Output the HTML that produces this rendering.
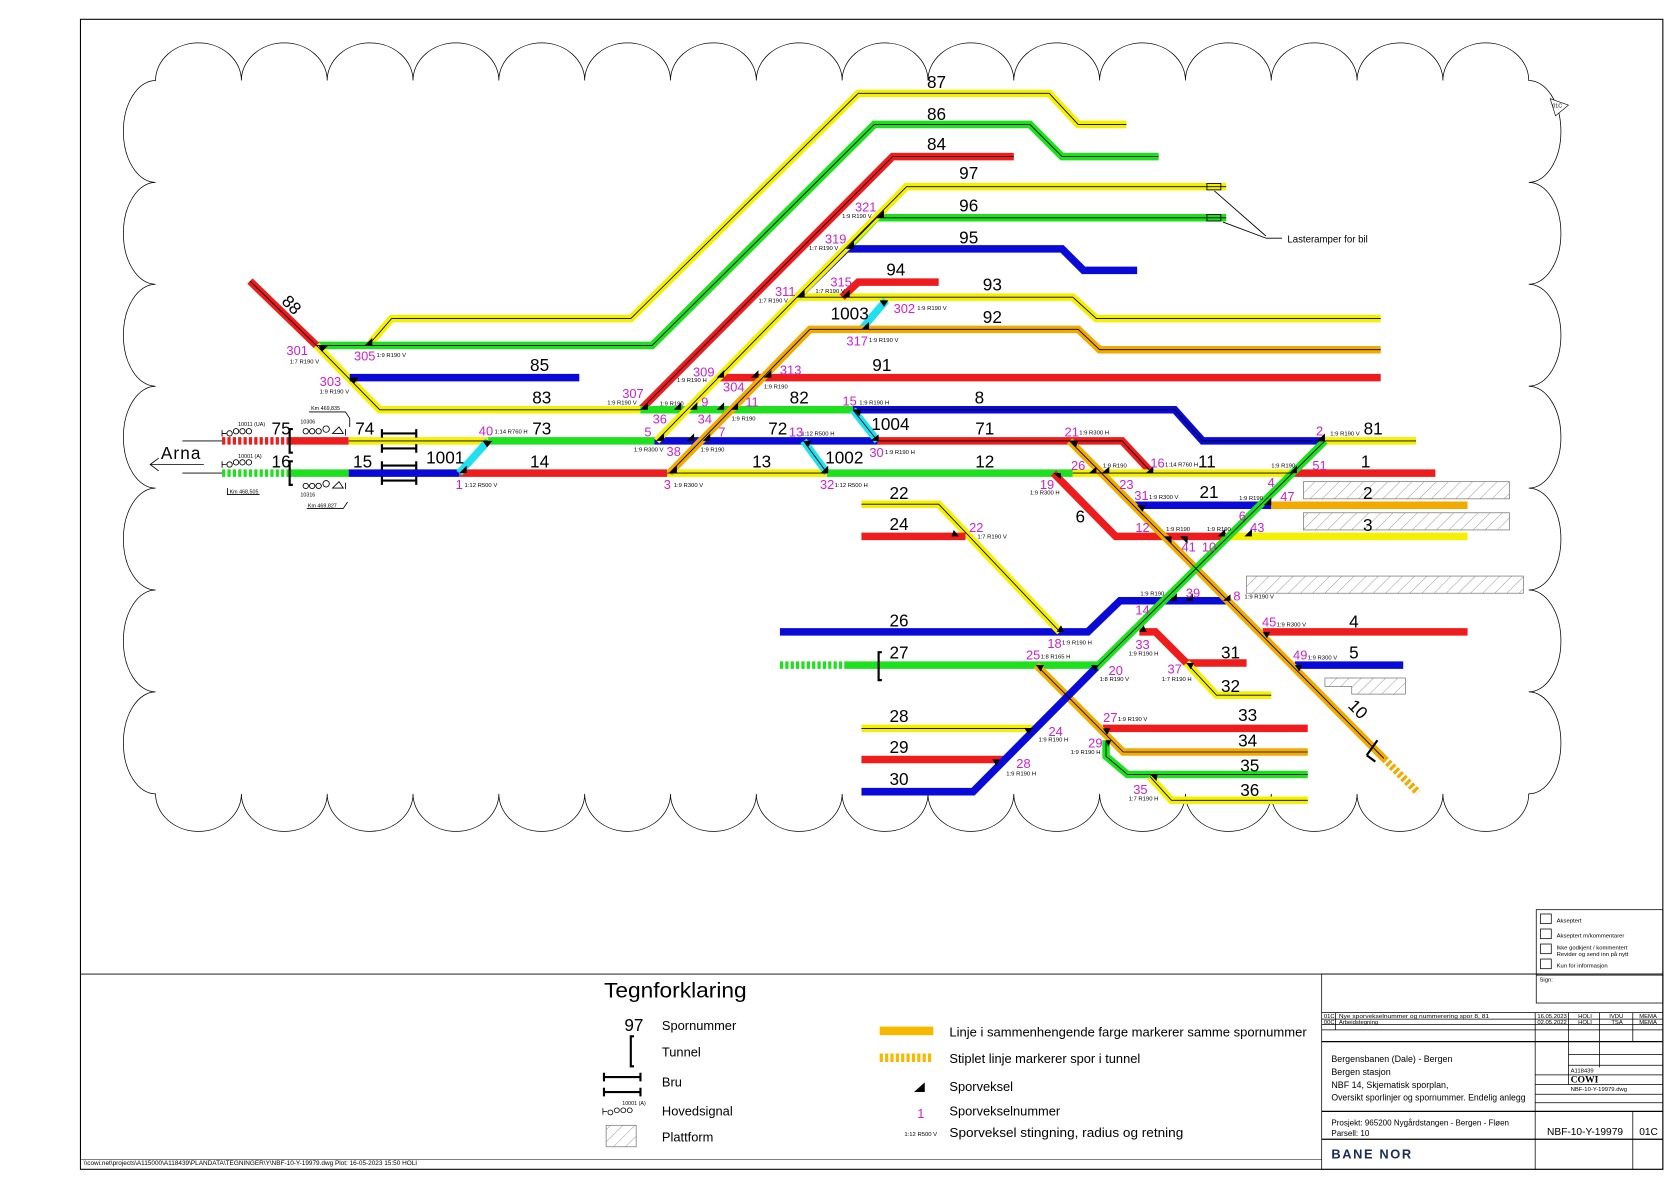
<!DOCTYPE html>
<html><head><meta charset="utf-8">
<style>
html,body{margin:0;padding:0;background:#fff;}
svg{display:block;}
text{font-family:"Liberation Sans Narrow","Liberation Sans",sans-serif;}
.L{font-size:16px;fill:#000;}
.m{font-size:12px;fill:#cc22cc;}
.s{font-size:5.5px;fill:#000;}
.k{fill:none;stroke:#000;stroke-width:0.8;}
</style></head><body>
<svg width="1680" height="1187" viewBox="0 0 1566 1106.5" preserveAspectRatio="none" xmlns="http://www.w3.org/2000/svg">
<defs>
<pattern id="h" width="8" height="8" patternUnits="userSpaceOnUse" patternTransform="rotate(45)"><line x1="0" y1="0" x2="0" y2="8" stroke="#888" stroke-width="0.8"/></pattern>
<polyline id="a87" points="345,320 365,297 588,297 800,87 978,87 1005,116 1050,116"/>
<polyline id="a86" points="295,322 608,322 815,116 960,116 990,146 1080,146"/>
<polyline id="a84" points="597,382 832,146 945,146"/>
<polyline id="a88" points="233,262 295,322"/>
<polyline id="a83" points="295,322 354,382 597,382"/>
<polyline id="a85" points="326,352 540,352"/>
<polyline id="a97" points="612,411 743,277 845,174 1143,174"/>
<polyline id="a93" points="743,277 1000,277 1022,297 1287,297"/>
<polyline id="a96" points="789,232 817,203 1143,203"/>
<polyline id="a95" points="743,277 789,232 990,232 1010,252 1060,252"/>
<polyline id="a94" points="785,277 800,263 875,263"/>
<polyline id="a1003" points="803,307 826,280"/>
<polyline id="a92" points="624,441 755,307 1005,307 1025,326 1287,326"/>
<polyline id="a91" points="668,352 1287,352"/>
<polyline id="a82" points="597,382 795,382"/>
<polyline id="a8" points="795,382 1095,382 1121,411 1235,411"/>
<polyline id="a81" points="1235,411 1320,411"/>
<polyline id="a75" points="270,411 325,411"/>
<polyline id="a74" points="325,411 455,411"/>
<polyline id="a73" points="455,411 610,411"/>
<polyline id="a72" points="610,411 818,411"/>
<polyline id="a1004" points="795,382 818,411"/>
<polyline id="a71" points="818,411 1046,411 1074,441"/>
<polyline id="a16" points="270,441 325,441"/>
<polyline id="a15" points="325,441 428,441"/>
<polyline id="a14" points="428,441 622,441"/>
<polyline id="a1001" points="428,441 455,411"/>
<polyline id="a13" points="622,441 771,441"/>
<polyline id="a1002" points="749,411 771,441"/>
<polyline id="a12" points="771,441 1000,441"/>
<polyline id="a11" points="1000,441 1205,441"/>
<polyline id="a1" points="1205,441 1338,441"/>
<polyline id="a6" points="982,441 1040,500 1143,500"/>
<polyline id="a3" points="1143,500 1368,500"/>
<polyline id="a21" points="1058,471 1185,471"/>
<polyline id="a2" points="1185,471 1368,471"/>
<polyline id="a10" points="997,411 1290,707"/>
<polyline id="agd" points="1235,411 1022,622"/>
<polyline id="abd" points="1022,622 907,738 803,738"/>
<polyline id="a26" points="727,589 1014,589 1044,560 1143,560"/>
<polyline id="a22" points="803,470 875,470 988,589"/>
<polyline id="a24" points="803,500 900,500"/>
<polyline id="a4" points="1177,589 1368,589"/>
<polyline id="a5" points="1207,620 1308,620"/>
<polyline id="a27" points="790,620 1025,620"/>
<polyline id="a31" points="1062,589 1077,589 1106,618 1162,618"/>
<polyline id="a32" points="1106,618 1134,648 1185,648"/>
<polyline id="a34" points="966,620 1047,701 1219,701"/>
<polyline id="a33" points="1028,679 1219,679"/>
<polyline id="a35" points="1031,690 1031,705 1051,722 1219,722"/>
<polyline id="a36" points="1072,724 1092,746 1219,746"/>
<polyline id="a28" points="803,679 963,679"/>
<polyline id="a29" points="803,708 935,708"/>
</defs>

<rect x="75" y="18" width="1475" height="1072" fill="none" stroke="#000" stroke-width="1"/>
<line x1="75" y1="908" x2="1550" y2="908" stroke="#000" stroke-width="0.8"/>

<path d="M145,75 a40,35 0 0 1 80,0 a40,35 0 0 1 80,0 a40,35 0 0 1 80,0 a40,35 0 0 1 80,0 a40,35 0 0 1 80,0 a40,35 0 0 1 80,0 a40,35 0 0 1 80,0 a40,35 0 0 1 80,0 a40,35 0 0 1 80,0 a40,35 0 0 1 80,0 a40,35 0 0 1 80,0 a40,35 0 0 1 80,0 a40,35 0 0 1 80,0 a40,35 0 0 1 80,0 a40,35 0 0 1 80,0 a40,35 0 0 1 80,0
 a30,47.5 0 0 1 0,95 a30,47.5 0 0 1 0,95 a30,47.5 0 0 1 0,95 a30,47.5 0 0 1 0,95 a30,47.5 0 0 1 0,95 a30,47.5 0 0 1 0,95 a30,47.5 0 0 1 0,95
 a40,35 0 0 1 -80,0 a40,35 0 0 1 -80,0 a40,35 0 0 1 -80,0 a40,35 0 0 1 -80,0 a40,35 0 0 1 -80,0 a40,35 0 0 1 -80,0 a40,35 0 0 1 -80,0 a40,35 0 0 1 -80,0 a40,35 0 0 1 -80,0 a40,35 0 0 1 -80,0 a40,35 0 0 1 -80,0 a40,35 0 0 1 -80,0 a40,35 0 0 1 -80,0 a40,35 0 0 1 -80,0 a40,35 0 0 1 -80,0 a40,35 0 0 1 -80,0
 a30,47.5 0 0 1 0,-95 a30,47.5 0 0 1 0,-95 a30,47.5 0 0 1 0,-95 a30,47.5 0 0 1 0,-95 a30,47.5 0 0 1 0,-95 a30,47.5 0 0 1 0,-95 a30,47.5 0 0 1 0,-95 Z" fill="none" stroke="#000" stroke-width="0.7"/>
<path d="M1445,92 L1462,98 L1450,108 Z" fill="#fff" stroke="#000" stroke-width="0.6"/>
<text x="1447" y="100" style="font-size:5px">01C</text>

<rect x="1215" y="449" width="192" height="16" fill="url(#h)" stroke="#777" stroke-width="0.7"/>
<rect x="1215" y="478" width="192" height="16" fill="url(#h)" stroke="#777" stroke-width="0.7"/>
<rect x="1162" y="537" width="258" height="16" fill="url(#h)" stroke="#777" stroke-width="0.7"/>
<path d="M1235,632 H1310 V647 H1260 V640 H1235 Z" fill="url(#h)" stroke="#777" stroke-width="0.7"/>

<g fill="none" stroke-width="7" stroke-linejoin="miter">
<use href="#a87" stroke="#f4f000"/>
<use href="#a86" stroke="#1ee01e"/>
<use href="#a84" stroke="#ee1c1c"/>
<use href="#a88" stroke="#ee1c1c"/>
<use href="#a83" stroke="#f4f000"/>
<use href="#a85" stroke="#0a0ad8"/>
<use href="#a93" stroke="#f4f000"/>
<use href="#a96" stroke="#1ee01e"/>
<use href="#a95" stroke="#0a0ad8"/>
<use href="#a94" stroke="#ee1c1c"/>
<use href="#a1003" stroke="#20e0f0"/>
<use href="#a91" stroke="#ee1c1c"/>
<use href="#a82" stroke="#1ee01e"/>
<use href="#a8" stroke="#0a0ad8"/>
<use href="#a81" stroke="#f4f000"/>
<use href="#a75" stroke="#ee1c1c"/>
<use href="#a74" stroke="#f4f000"/>
<use href="#a73" stroke="#1ee01e"/>
<use href="#a72" stroke="#0a0ad8"/>
<use href="#a1004" stroke="#20e0f0"/>
<use href="#a71" stroke="#ee1c1c"/>
<use href="#a16" stroke="#1ee01e"/>
<use href="#a15" stroke="#0a0ad8"/>
<use href="#a14" stroke="#ee1c1c"/>
<use href="#a1001" stroke="#20e0f0"/>
<use href="#a13" stroke="#f4f000"/>
<use href="#a1002" stroke="#20e0f0"/>
<use href="#a12" stroke="#1ee01e"/>
<use href="#a11" stroke="#f4f000"/>
<use href="#a1" stroke="#ee1c1c"/>
<use href="#a6" stroke="#ee1c1c"/>
<use href="#a3" stroke="#f4f000"/>
<use href="#a21" stroke="#0a0ad8"/>
<use href="#a2" stroke="#f2aa00"/>
<use href="#a26" stroke="#0a0ad8"/>
<use href="#a22" stroke="#f4f000"/>
<use href="#a24" stroke="#ee1c1c"/>
<use href="#a4" stroke="#ee1c1c"/>
<use href="#a5" stroke="#0a0ad8"/>
<use href="#a27" stroke="#1ee01e"/>
<use href="#a31" stroke="#ee1c1c"/>
<use href="#a32" stroke="#f4f000"/>
<use href="#a33" stroke="#ee1c1c"/>
<use href="#a34" stroke="#f2aa00"/>
<use href="#a35" stroke="#1ee01e"/>
<use href="#a36" stroke="#f4f000"/>
<use href="#a28" stroke="#f4f000"/>
<use href="#a29" stroke="#ee1c1c"/>
<use href="#a97" stroke="#f4f000"/>
<use href="#a92" stroke="#f2aa00"/>
<use href="#a10" stroke="#f2aa00"/>
<use href="#abd" stroke="#0a0ad8"/>
<use href="#agd" stroke="#1ee01e"/>
<line x1="207" y1="411" x2="270" y2="411" stroke="#ee1c1c" stroke-dasharray="3,2"/>
<line x1="207" y1="441" x2="270" y2="441" stroke="#1ee01e" stroke-dasharray="3,2"/>
<line x1="727" y1="620" x2="790" y2="620" stroke="#1ee01e" stroke-dasharray="3,2"/>
<line x1="1290" y1="707" x2="1322" y2="739" stroke="#f2aa00" stroke-dasharray="3,2"/>
</g>
<g class="k">
<use href="#a87"/><use href="#a86"/><use href="#a84"/><use href="#a88"/><use href="#a83"/>
<use href="#a97"/><use href="#a93"/><use href="#a96"/><use href="#a92"/><use href="#a8"/>
<use href="#a81"/><use href="#a74"/><use href="#a13"/><use href="#a11"/><use href="#a10"/><use href="#agd"/>
<use href="#a22"/><use href="#a32"/><use href="#a34"/><use href="#a35"/><use href="#a36"/><use href="#a28"/><use href="#a71"/><use href="#a1004"/><use href="#a1002"/>
</g>

<g fill="#000">
<path d="M297,322 l9,0 l-6,6z"/><path d="M340,322 l7,-7 l0,7z"/><path d="M326,352 l8,0 l-4,6z"/>
<path d="M597,382 l7,-7 l0,7z"/><path d="M628,382 l7,-7 l0,7z"/><path d="M643,382 l7,-7 l0,7z"/>
<path d="M668,352 l7,-7 l0,7z"/><path d="M700,352 l7,-7 l0,7z"/><path d="M712,352 l7,-7 l0,7z"/>
<path d="M668,382 l7,-7 l0,7z"/><path d="M681,382 l7,-7 l0,7z"/><path d="M612,411 l7,-7 l0,7z"/>
<path d="M640,411 l7,-7 l0,7z"/><path d="M655,411 l7,-7 l0,7z"/><path d="M624,441 l7,-7 l0,7z"/>
<path d="M743,277 l7,-7 l0,7z"/><path d="M789,232 l7,-7 l0,7z"/><path d="M817,203 l7,-7 l0,7z"/>
<path d="M785,277 l7,-7 l0,7z"/><path d="M820,280 l8,0 l-4,6z"/><path d="M803,307 l7,-7 l0,7z"/>
<path d="M795,382 l8,0 l-2,6z"/><path d="M811,411 l8,0 l0,-6z"/><path d="M749,411 l8,0 l-4,6z"/><path d="M765,441 l7,0 l0,-7z"/>
<path d="M450,411 l9,0 l-5,6z"/><path d="M428,441 l7,-7 l0,7z"/>
<path d="M997,411 l8,0 l-2,6z"/><path d="M1068,441 l7,0 l0,-6z"/><path d="M1015,441 l7,0 l0,-6z"/><path d="M1027,441 l7,0 l0,-6z"/>
<path d="M982,441 l7,0 l0,6z"/><path d="M1060,471 l8,0 l-3,6z"/><path d="M1178,471 l7,-7 l0,7z"/><path d="M1202,441 l7,-7 l0,7z"/>
<path d="M1160,500 l7,-7 l0,7z"/><path d="M1135,500 l7,-7 l0,7z"/><path d="M1085,500 l7,0 l0,7z"/><path d="M1100,500 l7,0 l0,7z"/>
<path d="M1228,411 l7,-7 l0,7z"/><path d="M1090,560 l7,-7 l0,7z"/><path d="M1105,560 l7,-7 l0,7z"/><path d="M1140,560 l7,0 l0,-6z"/>
<path d="M1177,589 l7,0 l-3,6z"/><path d="M1207,620 l7,0 l-3,6z"/><path d="M1062,589 l7,0 l-3,-6z"/><path d="M1106,618 l7,0 l-3,6z"/>
<path d="M985,589 l7,0 l-3,-6z"/><path d="M966,620 l7,0 l-3,6z"/><path d="M1017,620 l7,0 l-3,6z"/><path d="M955,679 l7,0 l-3,6z"/>
<path d="M925,708 l7,0 l-3,6z"/><path d="M1028,679 l7,0 l-3,6z"/><path d="M1031,690 l5,0 l-3,6z"/><path d="M1072,722 l7,0 l-1,6z"/><path d="M894,500 l-5,-6 l-2,6z"/>
</g>

<g class="L" text-anchor="middle">
<text x="873" y="82">87</text><text x="873" y="112">86</text><text x="873" y="140">84</text>
<text x="903" y="167">97</text><text x="903" y="197">96</text><text x="903" y="227">95</text>
<text x="835" y="257">94</text><text x="925" y="271">93</text><text x="792" y="298">1003</text>
<text x="925" y="301">92</text><text x="822" y="346">91</text><text x="503" y="346">85</text>
<text x="505" y="376">83</text><text x="745" y="376">82</text><text x="913" y="376">8</text>
<text x="1280" y="405">81</text><text x="262" y="405">75</text><text x="340" y="405">74</text>
<text x="505" y="405">73</text><text x="725" y="405">72</text><text x="830" y="401">1004</text>
<text x="918" y="405">71</text><text x="262" y="436">16</text><text x="338" y="436">15</text>
<text x="415" y="432">1001</text><text x="503" y="436">14</text><text x="710" y="436">13</text>
<text x="787" y="432">1002</text><text x="918" y="436">12</text><text x="1125" y="436">11</text>
<text x="1273" y="436">1</text><text x="1127" y="464">21</text><text x="1275" y="465">2</text>
<text x="1007" y="487">6</text><text x="1275" y="495">3</text><text x="838" y="465">22</text>
<text x="838" y="494">24</text><text x="838" y="584">26</text><text x="1262" y="585">4</text>
<text x="838" y="614">27</text><text x="1147" y="614">31</text><text x="1262" y="614">5</text>
<text x="1147" y="645">32</text><text x="838" y="673">28</text><text x="1163" y="672">33</text>
<text x="838" y="702">29</text><text x="1163" y="696">34</text><text x="838" y="732">30</text>
<text x="1165" y="719">35</text><text x="1165" y="742">36</text>
<text x="0" y="0" transform="translate(1262,665) rotate(45)">10</text>
<text x="0" y="0" transform="translate(268,288) rotate(45)">88</text>
</g>

<g class="m" text-anchor="middle">
<text x="277" y="331">301</text><text x="340" y="336">305</text><text x="308" y="360">303</text>
<text x="590" y="371">307</text><text x="656" y="351">309</text><text x="684" y="365">304</text>
<text x="737" y="349">313</text><text x="732" y="276">311</text><text x="784" y="267">315</text>
<text x="779" y="227">319</text><text x="807" y="197">321</text><text x="843" y="292">302</text>
<text x="799" y="322">317</text><text x="615" y="395">36</text><text x="657" y="379">9</text>
<text x="657" y="395">34</text><text x="701" y="379">11</text><text x="604" y="407">5</text>
<text x="628" y="425">38</text><text x="673" y="407">7</text><text x="742" y="407">13</text>
<text x="792" y="378">15</text><text x="817" y="426">30</text><text x="453" y="406">40</text>
<text x="428" y="456">1</text><text x="622" y="456">3</text><text x="771" y="456">32</text>
<text x="999" y="407">21</text><text x="1079" y="436">16</text><text x="1005" y="438">26</text>
<text x="976" y="456">19</text><text x="1050" y="456">23</text><text x="1064" y="466">31</text>
<text x="1185" y="454">4</text><text x="1230" y="438">51</text><text x="1200" y="467">47</text>
<text x="1158" y="485">6</text><text x="1065" y="496">12</text><text x="1172" y="496">43</text>
<text x="1108" y="514">41</text><text x="1127" y="514">10</text><text x="1112" y="557">39</text>
<text x="1153" y="560">8</text><text x="1065" y="573">14</text><text x="1183" y="584">45</text>
<text x="983" y="604">18</text><text x="1065" y="605">33</text><text x="1212" y="615">49</text>
<text x="963" y="615">25</text><text x="1040" y="629">20</text><text x="1095" y="628">37</text>
<text x="1035" y="673">27</text><text x="984" y="686">24</text><text x="1021" y="697">29</text>
<text x="954" y="716">28</text><text x="1063" y="740">35</text><text x="910" y="496">22</text>
<text x="1230" y="406">2</text>
</g>

<g class="s">
<text x="270" y="339">1:7 R190 V</text><text x="351" y="333">1:9 R190 V</text><text x="298" y="367">1:9 R190 V</text>
<text x="566" y="377">1:9 R190 V</text><text x="631" y="356">1:9 R190 H</text><text x="615" y="378">1:9 R190</text>
<text x="712" y="362">1:9 R190</text><text x="682" y="392">1:9 R190</text><text x="707" y="282">1:7 R190 V</text>
<text x="760" y="273">1:7 R190 V</text><text x="754" y="233">1:7 R190 V</text><text x="785" y="203">1:9 R190 V</text>
<text x="855" y="289">1:9 R190 V</text><text x="810" y="319">1:9 R190 V</text><text x="801" y="377">1:9 R190 H</text>
<text x="747" y="406">1:12 R500 H</text><text x="825" y="423">1:9 R190 H</text><text x="591" y="421">1:9 R300 V</text>
<text x="653" y="421">1:9 R190</text><text x="461" y="404">1:14 R760 H</text><text x="433" y="454">1:12 R500 V</text>
<text x="628" y="454">1:9 R300 V</text><text x="778" y="454">1:12 R500 H</text><text x="1006" y="405">1:9 R300 H</text>
<text x="1086" y="435">1:14 R760 H</text><text x="1028" y="436">1:9 R190</text><text x="960" y="461">1:9 R300 H</text>
<text x="1071" y="465">1:9 R300 V</text><text x="1155" y="466">1:9 R190</text><text x="1185" y="436">1:9 R190</text>
<text x="1087" y="495">1:9 R190</text><text x="1125" y="495">1:9 R190</text><text x="1063" y="555">1:9 R190</text>
<text x="1160" y="558">1:9 R190 V</text><text x="1190" y="584">1:9 R300 V</text><text x="1219" y="615">1:9 R300 V</text>
<text x="1240" y="406">1:9 R190 V</text><text x="990" y="601">1:9 R190 H</text><text x="970" y="614">1:8 R165 H</text>
<text x="1052" y="611">1:9 R190 H</text><text x="1025" y="635">1:8 R190 V</text><text x="1083" y="635">1:7 R190 H</text>
<text x="1042" y="672">1:9 R190 V</text><text x="968" y="691">1:9 R190 H</text><text x="998" y="703">1:9 R190 H</text>
<text x="938" y="723">1:9 R190 H</text><text x="1052" y="746">1:7 R190 H</text><text x="911" y="502">1:7 R190 V</text>
</g>

<g stroke="#000" fill="none" stroke-width="0.8">
<line x1="170" y1="411" x2="207" y2="411"/><line x1="170" y1="441" x2="207" y2="441"/>
<polyline points="148,427 140,433 148,439"/><line x1="140" y1="433" x2="190" y2="433"/>
<path d="M273,400 h-3 v22 h3" stroke-width="2"/><path d="M273,430 h-3 v22 h3" stroke-width="2"/>
<path d="M356,404 h32 M356,400 v8 M388,400 v8 M356,418 h32 M356,414 v8 M388,414 v8" stroke-width="2"/>
<path d="M356,434 h32 M356,430 v8 M388,430 v8 M356,448 h32 M356,444 v8 M388,444 v8" stroke-width="2"/>
<path d="M822,608 h-3 v26 h3" stroke-width="2"/>
<path d="M207,401 v6 M207,404 h4"/><circle cx="214" cy="404" r="2.5"/><circle cx="220" cy="402" r="2.5"/><circle cx="226" cy="402" r="2.5"/><circle cx="232" cy="402" r="2.5"/>
<path d="M207,430 v6 M207,433 h4"/><circle cx="214" cy="433" r="2.5"/><circle cx="220" cy="431" r="2.5"/><circle cx="226" cy="431" r="2.5"/><circle cx="232" cy="431" r="2.5"/>
<circle cx="285" cy="402" r="2.5"/><circle cx="291" cy="402" r="2.5"/><circle cx="297" cy="402" r="2.5"/><circle cx="304" cy="400" r="3"/><path d="M310,404 l6,-6 l4,6 z M322,400 v6"/>
<circle cx="285" cy="453" r="2.5"/><circle cx="291" cy="453" r="2.5"/><circle cx="297" cy="453" r="2.5"/><circle cx="304" cy="451" r="3"/><path d="M310,455 l6,-6 l4,6 z M322,450 v6"/>
<path d="M288,384 h34 l4,6 v8"/><path d="M212,455 v6 h30"/><path d="M286,474 h34 l4,-6"/>
<path d="M1132,178 L1180,220 M1140,207 L1180,222 M1180,222 h15"/>
<rect x="1125" y="171" width="13" height="6"/><rect x="1125" y="200" width="13" height="6"/>
<path d="M1274,704 l10,-14 M1274,704 l8,6" stroke-width="2"/>
</g>
<text x="150" y="428" style="font-size:16px;letter-spacing:1px">Arna</text>
<g style="font-size:5px">
<text x="222" y="397">10011 (UA)</text><text x="222" y="427">10001 (A)</text>
<text x="280" y="395">10306</text><text x="280" y="463">10316</text>
<text x="290" y="382">Km 469,835</text><text x="214" y="460">Km 468,505</text><text x="287" y="473">Km 469,827</text>
</g>
<text x="1200" y="226" style="font-size:9px">Lasteramper for bil</text>

<g fill="none" stroke="#000" stroke-width="0.7">
<rect x="1432" y="848" width="118" height="87"/><line x1="1432" y1="909" x2="1550" y2="909"/>
<rect x="1436" y="852" width="10" height="9"/><rect x="1436" y="866" width="10" height="9"/><rect x="1436" y="880" width="10" height="9"/><rect x="1436" y="894" width="10" height="9"/>
</g>
<g style="font-size:5.5px">
<text x="1451" y="860">Akseptert</text><text x="1451" y="874">Akseptert m/kommentarer</text>
<text x="1451" y="885">Ikke godkjent / kommentert</text><text x="1451" y="891">Revider og send inn på nytt</text>
<text x="1451" y="902">Kun for informasjon</text><text x="1435" y="915">Sign:</text>
</g>

<g fill="none" stroke="#000" stroke-width="0.7">
<rect x="1232" y="908" width="318" height="182"/>
<line x1="1232" y1="944" x2="1550" y2="944"/><line x1="1232" y1="950" x2="1550" y2="950"/>
<line x1="1232" y1="955" x2="1550" y2="955"/><line x1="1232" y1="960" x2="1550" y2="960"/>
<line x1="1232" y1="971" x2="1550" y2="971" stroke-width="1.2"/><line x1="1232" y1="1036" x2="1550" y2="1036" stroke-width="1.2"/>
<line x1="1232" y1="1062" x2="1550" y2="1062" stroke-width="1.2"/>
<line x1="1431" y1="944" x2="1431" y2="1090"/><line x1="1462" y1="944" x2="1462" y2="1011"/>
<line x1="1491" y1="944" x2="1491" y2="995"/><line x1="1522" y1="944" x2="1522" y2="971"/>
<line x1="1522" y1="1036" x2="1522" y2="1090"/><line x1="1245" y1="944" x2="1245" y2="960"/>
<line x1="1431" y1="1002" x2="1550" y2="1002"/><line x1="1431" y1="1011" x2="1550" y2="1011"/>
<line x1="1431" y1="1020" x2="1550" y2="1020"/><line x1="1431" y1="1028" x2="1550" y2="1028"/>
<line x1="1462" y1="983" x2="1550" y2="983"/><line x1="1462" y1="993" x2="1550" y2="993"/>
</g>
<g style="font-size:5.5px;font-family:'Liberation Sans',sans-serif">
<text x="1234" y="949">01C</text><text x="1248" y="949" textLength="140" lengthAdjust="spacingAndGlyphs">Nye sporvekselnummer og nummerering spor 8, 81</text>
<text x="1234" y="954.5">00C</text><text x="1248" y="954.5">Arbeidstegning</text>
<text x="1433" y="949">16.05.2023</text><text x="1471" y="949">HOLI</text><text x="1500" y="949">IVDU</text><text x="1528" y="949">MEMA</text>
<text x="1433" y="954.5">02.05.2022</text><text x="1471" y="954.5">HOLI</text><text x="1502" y="954.5">TSA</text><text x="1528" y="954.5">MEMA</text>
<text x="1464" y="1000">A118439</text><text x="1464" y="1017">NBF-10-Y-19979.dwg</text>
</g>
<g style="font-family:'Liberation Sans',sans-serif">
<text x="1464" y="1009" style="font-size:9px;font-weight:bold;font-family:'Liberation Serif',serif">COWI</text>
<text x="1241" y="990" style="font-size:8.3px">Bergensbanen (Dale) - Bergen</text>
<text x="1241" y="1002" style="font-size:8.3px">Bergen stasjon</text>
<text x="1241" y="1014" style="font-size:8.3px">NBF 14, Skjematisk sporplan,</text>
<text x="1241" y="1026" style="font-size:8.3px" textLength="181" lengthAdjust="spacingAndGlyphs">Oversikt sporlinjer og spornummer. Endelig anlegg</text>
<text x="1241" y="1049" style="font-size:7.5px">Prosjekt: 965200 Nygårdstangen - Bergen - Fløen</text>
<text x="1241" y="1059" style="font-size:7.5px">Parsell: 10</text>
<text x="1442" y="1058" style="font-size:9.5px">NBF-10-Y-19979</text>
<text x="1528" y="1058" style="font-size:9.5px">01C</text>
<text x="1241" y="1080" style="font-size:12px;font-weight:bold;fill:#1a2a5a;letter-spacing:1.5px">BANE NOR</text>
</g>

<text x="563" y="930" style="font-size:20px" textLength="133" lengthAdjust="spacingAndGlyphs">Tegnforklaring</text>
<g style="font-size:12px">
<text x="582" y="961" style="font-size:16px">97</text><text x="617" y="960">Spornummer</text>
<text x="617" y="985">Tunnel</text><text x="617" y="1013">Bru</text><text x="617" y="1040">Hovedsignal</text><text x="617" y="1064">Plattform</text>
<text x="885" y="966" textLength="333" lengthAdjust="spacingAndGlyphs">Linje i sammenhengende farge markerer samme spornummer</text>
<text x="885" y="991">Stiplet linje markerer spor i tunnel</text>
<text x="885" y="1017">Sporveksel</text><text x="885" y="1040">Sporvekselnummer</text>
<text x="885" y="1060" textLength="218" lengthAdjust="spacingAndGlyphs">Sporveksel stingning, radius og retning</text>
</g>
<text x="855" y="1042" class="m" style="font-size:12px">1</text>
<text x="843" y="1059" class="s">1:12 R500 V</text>
<path d="M591,966 h-3 v28 h3" fill="none" stroke="#000" stroke-width="2"/>
<path d="M563,1004 h34 M563,1000 v8 M597,1000 v8 M563,1018 h34 M563,1014 v8 M597,1014 v8" fill="none" stroke="#000" stroke-width="2"/>
<g fill="none" stroke="#000" stroke-width="0.7"><path d="M562,1033 v6 M562,1036 h4"/><circle cx="569" cy="1037" r="2.3"/><circle cx="575" cy="1035" r="2.3"/><circle cx="581" cy="1035" r="2.3"/><circle cx="587" cy="1035" r="2.3"/></g>
<text x="580" y="1030" style="font-size:5px">10001 (A)</text>
<rect x="565" y="1049" width="28" height="20" fill="url(#h)" stroke="#777" stroke-width="0.7"/>
<rect x="820" y="957" width="50" height="8" fill="#f8b800"/>
<line x1="820" y1="986" x2="870" y2="986" stroke="#f8b800" stroke-width="8" stroke-dasharray="3,2"/>
<path d="M852,1018 l10,-9 v9 z" fill="#000"/>

<text x="78" y="1086" style="font-size:6px">\\cowi.net\projects\A115000\A118439\PLANDATA\TEGNINGER\Y\NBF-10-Y-19979.dwg  Plot: 16-05-2023  15:50  HOLI</text>
<line x1="75" y1="1081" x2="1232" y2="1081" stroke="#000" stroke-width="0.5"/>
</svg>
</body></html>
